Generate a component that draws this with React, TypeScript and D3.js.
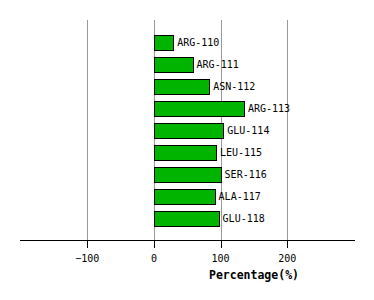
import React from "react";
import * as d3 from "d3";

const categories = ["ARG-110", "ARG-111", "ASN-112", "ARG-113", "GLU-114", "LEU-115", "SER-116", "ALA-117", "GLU-118"];
const values = [29, 58, 83, 135, 104, 93, 100, 91, 97];
const tickValues = [-100, 0, 100, 200];

export default function App() {
  const W = 374, H = 300;
  const x = d3.scaleLinear().domain([-200, 300]).range([20.5, 354]);
  const y = d3.scaleBand<string>().domain(categories).range([28, 233]).paddingInner(7 / 22).paddingOuter(7 / 22);
  const font = "'DejaVu Sans Mono', monospace";
  return (
    <svg width={W} height={H} style={{ position: "absolute", left: 0, top: 0, background: "#fff" }}>
      {tickValues.map((t) => (
        <line key={"g" + t} x1={Math.round(x(t)) + 0.5} x2={Math.round(x(t)) + 0.5} y1={20} y2={240} stroke="#999" strokeWidth={1} />
      ))}
      {categories.map((c, i) => {
        const x0 = x(0), x1 = x(values[i]);
        const yy = y(c)!;
        return (
          <g key={c}>
            <rect x={Math.round(x0) + 0.5} y={Math.round(yy) + 0.5} width={Math.round(x1 - x0)} height={Math.round(y.bandwidth())} fill="#00b400" stroke="#000" strokeWidth={1} />
            <text x={x1 + 4} y={yy + y.bandwidth() / 2} dy="0.35em" fontFamily={font} fontSize={10} fill="#000">{c}</text>
          </g>
        );
      })}
      <line x1={20} x2={355} y1={240.5} y2={240.5} stroke="#000" strokeWidth={1} />
      {tickValues.map((t) => (
        <g key={"t" + t}>
          <line x1={Math.round(x(t)) + 0.5} x2={Math.round(x(t)) + 0.5} y1={240} y2={248} stroke="#000" strokeWidth={1} />
          <text x={x(t)} y={258} dy="0.35em" textAnchor="middle" fontFamily={font} fontSize={10} fill="#000">{t < 0 ? "\u2212" + Math.abs(t) : t}</text>
        </g>
      ))}
      <text x={254} y={275} dy="0.35em" textAnchor="middle" fontFamily={font} fontSize={11.5} fontWeight="bold" fill="#000">Percentage(%)</text>
    </svg>
  );
}
